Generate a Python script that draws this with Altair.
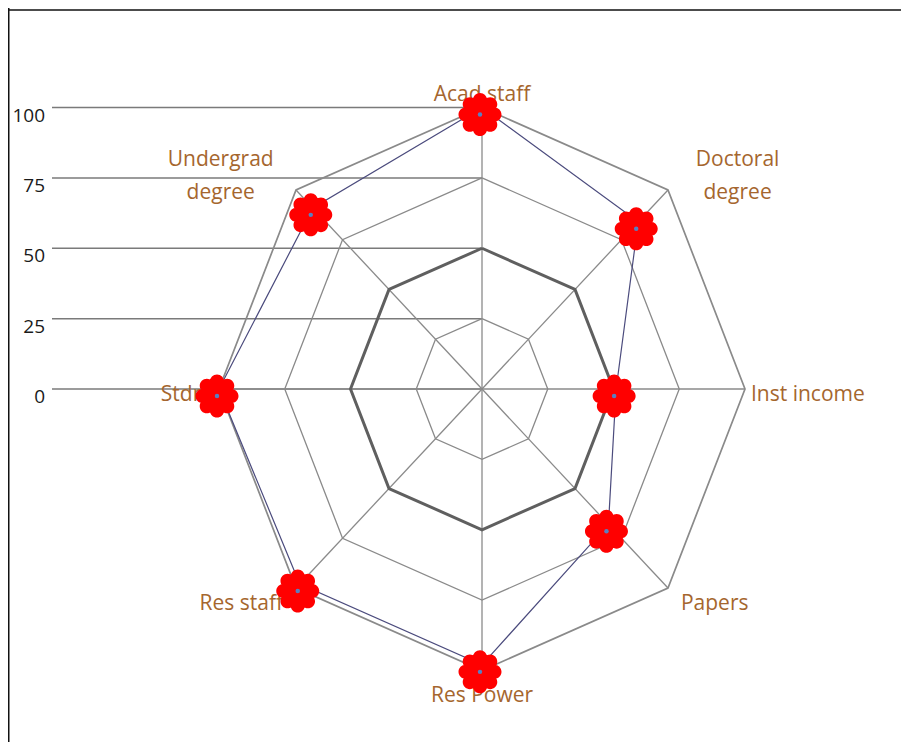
import math
import altair as alt
import pandas as pd

# ---------------- data ----------------
categories = ["Acad staff", "Doctoral\ndegree", "Inst income", "Papers",
              "Res Power", "Res staff", "Stdnt", "Undergrad\ndegree"]
values = [100, 84, 51, 68, 98, 98, 100, 91]
ring_levels = [25, 50, 75, 100]
tick_values = [0, 25, 50, 75, 100]
tick_labels = ["0", "25", "50", "75", "100"]

# ---------------- layout ----------------
W, H = 893, 734
CX, CY = 474, 381          # centre of the web, svg pixels
KX, KY = 2.63, 2.815       # pixels per unit
LH = 33                    # label line height
x_dom = [-CX / KX, (W - CX) / KX]
y_dom = [-(H - CY) / KY, CY / KY]


def px_x(px):
    return (px - CX) / KX


def px_y(py):
    return (CY - py) / KY


n = len(categories)
angles = [math.pi / 2 - i * 2 * math.pi / n for i in range(n)]

xs = alt.Scale(domain=x_dom, nice=False, zero=False)
ys = alt.Scale(domain=y_dom, nice=False, zero=False)
X = lambda f: alt.X(f, type="quantitative", scale=xs, axis=None)
Y = lambda f: alt.Y(f, type="quantitative", scale=ys, axis=None)

# rings
ring_rows = []
for lvl in ring_levels:
    for i in range(n + 1):
        a = angles[i % n]
        ring_rows.append({"ring": lvl, "o": i, "x": lvl * math.cos(a), "y": lvl * math.sin(a),
                          "w": 3.0 if lvl == 50 else (1.7 if lvl == 100 else 1.3),
                          "c": "#5f5f5f" if lvl == 50 else "#8a8a8a"})
rings = pd.DataFrame(ring_rows)

# spokes
spoke_rows = []
for i, a in enumerate(angles):
    spoke_rows.append({"k": i, "x": 0.0, "y": 0.0, "x2": 100 * math.cos(a), "y2": 100 * math.sin(a)})
spokes = pd.DataFrame(spoke_rows)

# left value axis
ticks = pd.DataFrame({"v": tick_values, "t": tick_labels})
ticks["x0"] = px_x(44)
ticks["x1"] = 0.0
ticks["xl"] = px_x(37)

# series
ser_rows = []
for i in range(n + 1):
    a = angles[i % n]
    v = values[i % n]
    ser_rows.append({"o": i, "cat": categories[i % n], "v": v,
                     "x": v * math.cos(a), "y": v * math.sin(a)})
series = pd.DataFrame(ser_rows)
points = series.iloc[:n]

# category labels
lab_rows = []
for i, (c, a) in enumerate(zip(categories, angles)):
    ca, sa = math.cos(a), math.sin(a)
    vx, vy = 100 * ca * KX, 100 * sa * KY   # pixel offset (y up) of outer vertex
    if abs(sa) < 0.1:
        gx, gy = 6, 0
    elif abs(ca) < 0.1:
        gx, gy = 0, (15 if sa > 0 else 23)
    else:
        gx, gy = (24 if sa > 0 else 13), (15 if sa > 0 else 14)
    px = vx + gx * (1 if ca > 0.1 else (-1 if ca < -0.1 else 0))
    py = vy + gy * (1 if sa > 0.1 else (-1 if sa < -0.1 else 0))
    py -= 2
    if abs(sa) < 0.1:
        py -= 4
    lines = c.split("\n")
    if len(lines) > 1:
        half = 5.7 * max(len(s) for s in lines)
        px += half * (1 if ca > 0 else -1)
        py += (len(lines) - 1) * LH / 2
        align = "center"
    else:
        align = "left" if ca > 0.1 else ("right" if ca < -0.1 else "center")
    lab_rows.append({"t": c, "x": px / KX, "y": py / KY, "al": align})
labels = pd.DataFrame(lab_rows)

# frame lines
frame_top = pd.DataFrame({"x": [x_dom[0]], "x2": [x_dom[1]], "y": [px_y(2)]})
frame_left = pd.DataFrame({"x": [px_x(0.75)], "y": [y_dom[0]], "y2": [y_dom[1]]})


# flower marker path
def circ(cx, cy, r):
    return (f"M{cx + r:.4f},{cy:.4f}A{r:.4f},{r:.4f} 0 1,0 {cx - r:.4f},{cy:.4f}"
            f"A{r:.4f},{r:.4f} 0 1,0 {cx + r:.4f},{cy:.4f}Z")


d, pr = 0.67, 0.33
flower = circ(0, 0, 0.72) + "".join(
    circ(d * math.cos(k * math.pi / 4), d * math.sin(k * math.pi / 4), pr) for k in range(8))

FONT = "Open Sans"

top = alt.Chart(frame_top).mark_rule(color="#111111", strokeWidth=1.5).encode(
    x=X("x"), x2="x2", y=Y("y"))
left = alt.Chart(frame_left).mark_rule(color="#111111", strokeWidth=1.5).encode(
    x=X("x"), y=Y("y"), y2="y2")

tick_lines = alt.Chart(ticks).mark_rule(color="#7a7a7a", strokeWidth=1.5).encode(
    x=X("x0"), x2="x1", y=Y("v"))
tick_text = alt.Chart(ticks).mark_text(align="right", baseline="middle", dy=8, font=FONT,
                                       fontSize=19, color="#1a1a1a").encode(
    x=X("xl"), y=Y("v"), text="t:N")

spoke_layer = alt.Chart(spokes).mark_rule(color="#8a8a8a", strokeWidth=1.3).encode(
    x=X("x"), y=Y("y"), x2="x2", y2="y2")

ring_layer = alt.Chart(rings).mark_line(strokeJoin="miter").encode(
    x=X("x"), y=Y("y"), order="o:Q", detail="ring:N",
    color=alt.Color("c:N", scale=None), strokeWidth=alt.StrokeWidth("w:Q", scale=None))

line_layer = alt.Chart(series).mark_line(color="#4b4b7d", strokeWidth=1.2).encode(
    x=X("x"), y=Y("y"), order="o:Q")

label_layers = []
for al in ["left", "right", "center"]:
    label_layers.append(
        alt.Chart(labels).transform_filter(alt.datum.al == al).mark_text(
            align=al, baseline="middle", font=FONT, fontSize=21, color="#a5662e",
            lineBreak="\n", lineHeight=LH).encode(x=X("x"), y=Y("y"), text="t:N"))

marker_layer = alt.Chart(points).mark_point(
    shape=flower, filled=True, color="#ff0000", opacity=1, size=1849,
    xOffset=-2, yOffset=7, strokeWidth=0).encode(x=X("x"), y=Y("y"))
dot_layer = alt.Chart(points).mark_point(
    shape="circle", filled=True, color="#5a7fc0", opacity=1, size=20,
    xOffset=-2, yOffset=7).encode(x=X("x"), y=Y("y"))

chart = alt.layer(
    top, left, tick_lines, spoke_layer, ring_layer, line_layer, tick_text,
    *label_layers, marker_layer, dot_layer
).properties(
    width=W, height=H, autosize=alt.AutoSizeParams(type="none"), padding=0,
    background="white"
).configure_view(stroke=None)

chart.save("out.html", embed_options={"renderer": "svg", "actions": False})
